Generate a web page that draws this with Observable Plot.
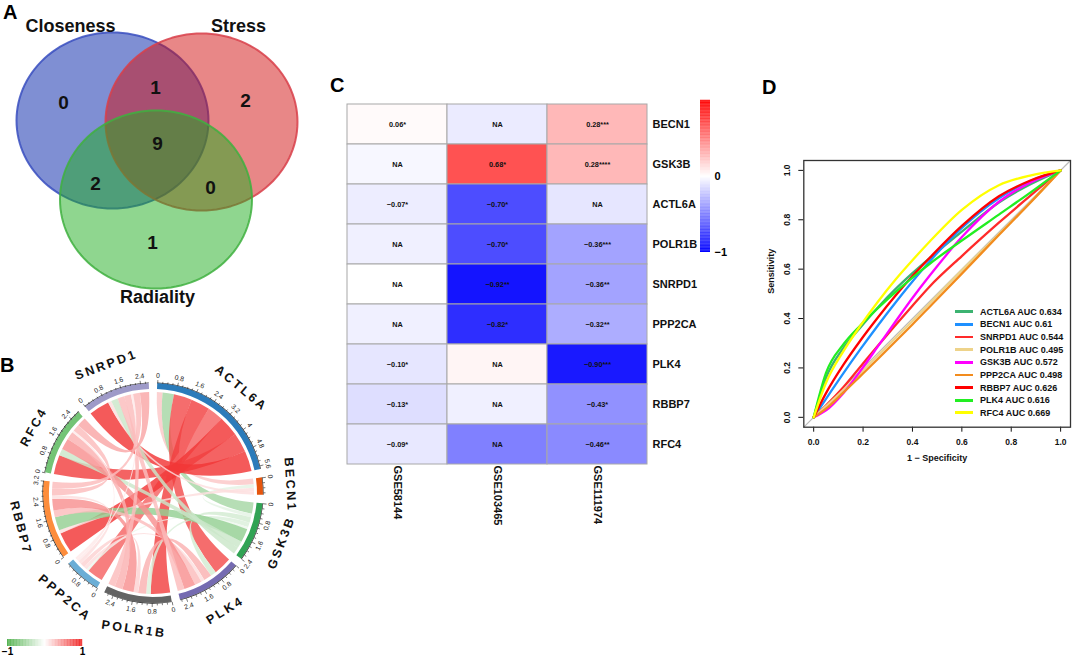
<!DOCTYPE html>
<html><head><meta charset="utf-8">
<script src="https://cdn.jsdelivr.net/npm/d3@7"></script>
<script src="https://cdn.jsdelivr.net/npm/@observablehq/plot@0.6"></script>
<style>
body{margin:0;background:#fff;font-family:"Liberation Sans",Arial,Helvetica,sans-serif;}
#fig{position:relative;width:1072px;height:656px;overflow:hidden;background:#fff;}
.tag{position:absolute;font-weight:bold;font-size:20px;line-height:1;color:#000;}
.leg{position:absolute;font-weight:bold;font-size:9px;color:#111;}
.leg .row{height:12.65px;display:flex;align-items:center;white-space:nowrap;}
.leg .sw{display:inline-block;width:18px;height:2.7px;margin-right:7px;}
</style></head>
<body><div id="fig"></div>
<script>
// ---------------- DATA ----------------
// Panel A – Venn
const vennSets = ["Closeness", "Stress", "Radiality"];
const vennRegions = ["Closeness only", "Closeness∩Stress", "Stress only", "all three", "Closeness∩Radiality", "Stress∩Radiality", "Radiality only"];
const vennCounts = [0, 1, 2, 9, 2, 0, 1];

// Panel B – chord (pairwise correlations)
const chordGenes = ["ACTL6A", "BECN1", "GSK3B", "PLK4", "POLR1B", "PPP2CA", "RBBP7", "RFC4", "SNRPD1"];
const chordFrom = ["ACTL6A","ACTL6A","ACTL6A","ACTL6A","ACTL6A","ACTL6A","ACTL6A","ACTL6A",
  "BECN1","BECN1","BECN1",
  "GSK3B","GSK3B","GSK3B","GSK3B","GSK3B","GSK3B",
  "PLK4","PLK4","PLK4","PLK4","PLK4",
  "POLR1B","POLR1B","POLR1B","POLR1B",
  "PPP2CA","PPP2CA","PPP2CA",
  "RBBP7","RBBP7","RFC4"];
const chordTo = ["BECN1","GSK3B","PLK4","POLR1B","PPP2CA","RBBP7","RFC4","SNRPD1",
  "GSK3B","RBBP7","SNRPD1",
  "PLK4","POLR1B","PPP2CA","RBBP7","RFC4","SNRPD1",
  "POLR1B","PPP2CA","RBBP7","RFC4","SNRPD1",
  "PPP2CA","RBBP7","RFC4","SNRPD1",
  "RBBP7","RFC4","SNRPD1",
  "RFC4","SNRPD1","SNRPD1"];
const chordR = [0.25,-0.5,0.8,0.85,0.7,0.9,0.85,0.9,
  -0.15,0.15,0.15,
  -0.25,-0.2,-0.1,-0.6,-0.3,-0.3,
  0.35,0.15,0.3,0.5,0.3,
  0.2,0.5,0.35,0.3,
  0.15,0.1,0.1,
  0.3,0.3,0.4];

// Panel C – heatmap
const heatGenes = ["BECN1", "GSK3B", "ACTL6A", "POLR1B", "SNRPD1", "PPP2CA", "PLK4", "RBBP7", "RFC4"];
const heatSets = ["GSE58144", "GSE103465", "GSE111974"];
const heatValues = [
  [0.02, -0.08, 0.28],
  [-0.03, 0.68, 0.28],
  [-0.07, -0.70, -0.10],
  [-0.06, -0.70, -0.36],
  [0.00, -0.92, -0.36],
  [-0.06, -0.82, -0.32],
  [-0.10, 0.04, -0.90],
  [-0.13, -0.06, -0.43],
  [-0.09, -0.50, -0.46]
];
const heatText = [
  ["0.06*", "NA", "0.28***"],
  ["NA", "0.68*", "0.28****"],
  ["−0.07*", "−0.70*", "NA"],
  ["NA", "−0.70*", "−0.36***"],
  ["NA", "−0.92**", "−0.36**"],
  ["NA", "−0.82*", "−0.32**"],
  ["−0.10*", "NA", "−0.90***"],
  ["−0.13*", "NA", "−0.43*"],
  ["−0.09*", "NA", "−0.46**"]
];

// Panel D – ROC
const rocGenes = ["ACTL6A", "BECN1", "SNRPD1", "POLR1B", "GSK3B", "PPP2CA", "RBBP7", "PLK4", "RFC4"];
const rocAUC = [0.634, 0.61, 0.544, 0.495, 0.572, 0.498, 0.626, 0.616, 0.669];
const rocFPR = [0, 0.05, 0.12, 0.19, 0.26, 0.33, 0.40, 0.47, 0.60, 0.75, 0.88, 1];
const rocTPR = [
  [0, 0.160, 0.280, 0.365, 0.445, 0.518, 0.584, 0.645, 0.752, 0.870, 0.945, 1],
  [0, 0.075, 0.178, 0.277, 0.372, 0.463, 0.550, 0.632, 0.767, 0.887, 0.958, 1],
  [0, 0.048, 0.122, 0.206, 0.290, 0.372, 0.452, 0.530, 0.653, 0.788, 0.900, 1],
  [0, 0.045, 0.110, 0.180, 0.250, 0.320, 0.390, 0.462, 0.595, 0.742, 0.873, 1],
  [0, 0.028, 0.098, 0.189, 0.287, 0.386, 0.483, 0.574, 0.730, 0.873, 0.952, 1],
  [0, 0.035, 0.100, 0.168, 0.236, 0.306, 0.376, 0.448, 0.582, 0.738, 0.872, 1],
  [0, 0.098, 0.212, 0.312, 0.404, 0.491, 0.572, 0.646, 0.775, 0.895, 0.960, 1],
  [0, 0.180, 0.295, 0.373, 0.442, 0.506, 0.566, 0.622, 0.716, 0.821, 0.912, 1],
  [0, 0.140, 0.267, 0.372, 0.468, 0.556, 0.636, 0.712, 0.840, 0.940, 0.980, 1]
];
const rocTicks = [0, 0.2, 0.4, 0.6, 0.8, 1];

// ---------------- STYLES / LAYOUT ----------------
const FONT = '"Liberation Sans", Arial, Helvetica, sans-serif';
const vennFill = ["#0020a8", "#d11010", "#20ad20"];
const vennStroke = ["#3a4fc0", "#d8404a", "#3fb03f"];
const vennShape = [{cx:112, cy:120, rx:96, ry:88}, {cx:201, cy:121.5, rx:96, ry:88.5}, {cx:155.5, cy:199, rx:96, ry:89}];
const vennNamePos = [[70, 26], [238, 26], [157, 297]];
const vennCountPos = [[63, 102], [155, 87], [245, 100], [157, 143], [95, 183], [210, 187], [152, 242]];
const sectorColors = ["#2b7bba", "#e6550d", "#31a354", "#756bb1", "#636363", "#6baed6", "#fd8d3c", "#74c476", "#9e9ac8"];
const chordRange = ["#4daf4a", "#ffffff", "#f02020"];
const heatRange = ["#0000ff", "#ffffff", "#ff0000"];
const rocColors = ["#3CB371", "#1E90FF", "#FF2A2A", "#EED38A", "#FF00FF", "#F28C1E", "#FF0000", "#22EE22", "#FFFF00"];

const fig = document.getElementById("fig");
function place(node, left, top) {
  node.style.position = "absolute";
  node.style.left = left + "px";
  node.style.top = top + "px";
  fig.appendChild(node);
  return node;
}
function tag(t, left, top) {
  const d = document.createElement("div");
  d.className = "tag"; d.textContent = t;
  d.style.left = left + "px"; d.style.top = top + "px";
  fig.appendChild(d);
}

// ---------------- PANEL A ----------------
function ellipsePts(e) {
  return d3.range(0, 361, 3).map(t => ({x: e.cx + e.rx * Math.cos(t * Math.PI / 180), y: e.cy + e.ry * Math.sin(t * Math.PI / 180)}));
}
const vennPlot = Plot.plot({
  width: 320, height: 320, margin: 0,
  x: {domain: [0, 320], range: [0, 320], axis: null},
  y: {domain: [0, 320], range: [0, 320], axis: null},
  style: {fontFamily: FONT, background: "transparent", overflow: "visible"},
  marks: [
    ...vennSets.map((s, i) => Plot.line(ellipsePts(vennShape[i]), {x: "x", y: "y", fill: vennFill[i], fillOpacity: 0.5, stroke: vennStroke[i], strokeOpacity: 0.85, strokeWidth: 2})),
    Plot.text(vennSets, {x: (d, i) => vennNamePos[i][0], y: (d, i) => vennNamePos[i][1], text: d => d, fontSize: 18, fontWeight: "bold", fill: "#111"}),
    Plot.text(vennCounts, {x: (d, i) => vennCountPos[i][0], y: (d, i) => vennCountPos[i][1], text: d => String(d), fontSize: 19, fontWeight: "bold", fill: "#111"})
  ]
});
place(vennPlot, 0, 0);

// ---------------- PANEL B ----------------
const N = chordGenes.length;
const gIdx = new Map(chordGenes.map((g, i) => [g, i]));
const mat = chordGenes.map(() => Array(N).fill(0));
const sgn = chordGenes.map(() => Array(N).fill(0));
chordFrom.forEach((a, k) => {
  const i = gIdx.get(a), j = gIdx.get(chordTo[k]);
  mat[i][j] = mat[j][i] = Math.abs(chordR[k]);
  sgn[i][j] = sgn[j][i] = chordR[k];
});
const PAD = 4.4 * Math.PI / 180;
const OFF = PAD / 2;
const chordLayout = d3.chord().padAngle(PAD)(mat);
const chordColor = Plot.scale({color: {type: "linear", domain: [-1, 0, 1], range: chordRange}});
const groups = chordLayout.groups.map(g => ({index: g.index, value: g.value, a0: g.startAngle + OFF, a1: g.endAngle + OFF, gene: chordGenes[g.index]}));
const ticks = [];
for (const g of groups) {
  const k = (g.a1 - g.a0) / g.value;
  for (let i = 0; i * 0.2 <= g.value + 1e-6; i++) ticks.push({a: g.a0 + i * 0.2 * k, v: +(i * 0.2).toFixed(1), major: i % 4 === 0});
}
const nice = a => { let d = a * 180 / Math.PI; d = ((d % 360) + 360) % 360; return (d > 90 && d < 270) ? d - 180 : d; };
const R_TRACK = 110;
const B_W = 320, B_H = 336, B_CX = 153, B_CY = 173;
const chordMark = (index, scales) => {
  const g = d3.create("svg:g").attr("transform", `translate(${scales.x(0)},${scales.y(0)}) rotate(${OFF * 180 / Math.PI})`);
  g.append("g").selectAll("path").data(chordLayout).join("path")
    .attr("d", d3.ribbon().radius(101))
    .attr("fill", d => chordColor.apply(sgn[d.source.index][d.target.index]))
    .attr("fill-opacity", 0.82);
  g.append("g").selectAll("path").data(chordLayout.groups).join("path")
    .attr("d", d3.arc().innerRadius(104).outerRadius(R_TRACK))
    .attr("fill", d => sectorColors[d.index]);
  g.append("g").selectAll("path").data(chordLayout.groups).join("path")
    .attr("d", d3.arc().innerRadius(R_TRACK).outerRadius(R_TRACK + 0.6))
    .attr("fill", "#222");
  return g.node();
};
const chordPlot = Plot.plot({
  width: B_W, height: B_H, margin: 0,
  x: {domain: [-B_CX, B_W - B_CX], range: [0, B_W], axis: null},
  y: {domain: [-B_CY, B_H - B_CY], range: [0, B_H], axis: null},
  style: {fontFamily: FONT, background: "transparent", overflow: "visible"},
  marks: [
    chordMark,
    Plot.link(ticks, {
      x1: d => R_TRACK * Math.sin(d.a), y1: d => -R_TRACK * Math.cos(d.a),
      x2: d => (R_TRACK + (d.major ? 3.5 : 2)) * Math.sin(d.a), y2: d => -(R_TRACK + (d.major ? 3.5 : 2)) * Math.cos(d.a),
      stroke: "#222", strokeWidth: 0.6
    }),
    Plot.text(ticks.filter(t => t.major), {
      x: d => 118 * Math.sin(d.a), y: d => -118 * Math.cos(d.a),
      text: d => String(d.v), rotate: d => nice(d.a), fontSize: 6.8, fill: "#222"
    }),
    Plot.text(groups, {
      x: d => 137 * Math.sin((d.a0 + d.a1) / 2), y: d => -137 * Math.cos((d.a0 + d.a1) / 2),
      text: "gene", rotate: d => nice((d.a0 + d.a1) / 2), fontSize: 12.5, fontWeight: "bold", fill: "#111"
    })
  ]
});
chordPlot.querySelectorAll("text").forEach(t => { if (chordGenes.includes(t.textContent)) t.style.letterSpacing = "2.5px"; });
place(chordPlot, 0, 320);

const rampH = d3.range(-1, 1, 0.02);
const chordLegend = Plot.plot({
  width: 92, height: 24, marginLeft: 7, marginRight: 10, marginTop: 7, marginBottom: 10,
  x: {domain: [-1, 1], ticks: [-1, 1], tickSize: 0, tickPadding: 1, tickFormat: d => d < 0 ? "−1" : "1", label: null},
  color: {type: "linear", domain: [-1, 0, 1], range: chordRange},
  style: {fontFamily: FONT, fontSize: "10px", fontWeight: "bold", background: "transparent", overflow: "visible"},
  marks: [Plot.rect(rampH, {x1: d => d, x2: d => d + 0.025, fill: d => d + 0.01})]
});
place(chordLegend, 0, 632);

// ---------------- PANEL C ----------------
const cells = heatGenes.flatMap((g, i) => heatSets.map((s, j) => ({gene: g, set: s, value: heatValues[i][j], label: heatText[i][j]})));
const heatPlot = Plot.plot({
  width: 420, height: 500, marginLeft: 16, marginRight: 102, marginTop: 40, marginBottom: 92,
  x: {domain: heatSets, padding: 0, axis: "bottom", tickRotate: 90, tickSize: 0, tickPadding: -3, label: null},
  y: {domain: heatGenes, padding: 0, axis: "right", tickSize: 0, tickPadding: 4, label: null},
  color: {type: "linear", domain: [-1, 0, 1], range: heatRange},
  style: {fontFamily: FONT, fontSize: "11px", fontWeight: "bold", background: "transparent", overflow: "visible", color: "#111"},
  marks: [
    Plot.cell(cells, {x: "set", y: "gene", fill: "value", stroke: "#a8a8a8", strokeWidth: 1}),
    Plot.text(cells, {x: "set", y: "gene", text: "label", fontSize: 7.3, fontWeight: "bold", fill: "#111"})
  ]
});
place(heatPlot, 330, 60);

const rampV = d3.range(-1, 1, 0.01);
const heatLegend = Plot.plot({
  width: 40, height: 160, marginLeft: 0, marginRight: 30, marginTop: 0, marginBottom: 8,
  x: {domain: [0, 1], axis: null},
  y: {domain: [-1, 1], axis: "right", ticks: [0, -1], tickSize: 0, tickPadding: 4, tickFormat: d => d < 0 ? "−1" : "0", label: null},
  color: {type: "linear", domain: [-1, 0, 1], range: heatRange},
  style: {fontFamily: FONT, fontSize: "11px", fontWeight: "bold", background: "transparent", overflow: "visible"},
  marks: [Plot.rect(rampV, {x1: 0, x2: 1, y1: d => d, y2: d => d + 0.013, fill: d => d + 0.005})]
});
place(heatLegend, 700, 100);

// ---------------- PANEL D ----------------
const rocRows = rocGenes.flatMap((g, i) => rocFPR.map((x, j) => ({gene: g, x, y: rocTPR[i][j]})));
const rocPlot = Plot.plot({
  width: 322, height: 330, marginLeft: 53.3, marginRight: 2, marginTop: 20, marginBottom: 43.3,
  x: {domain: [-0.04, 1.04], ticks: rocTicks, tickFormat: d3.format(".1f"), tickSize: 5, tickPadding: 7, label: null},
  y: {domain: [-0.04, 1.04], ticks: rocTicks, tickSize: 5, tickFormat: () => "", label: null},
  style: {fontFamily: FONT, fontSize: "8.5px", fontWeight: "bold", background: "transparent", overflow: "visible", color: "#111"},
  marks: [
    Plot.line([-0.04, 1.04], {x: d => d, y: d => d, stroke: "#bbbbbb", strokeWidth: 1.2}),
    ...rocGenes.map((g, i) => Plot.line(rocRows.filter(r => r.gene === g), {x: "x", y: "y", stroke: rocColors[i], strokeWidth: 2.3, curve: "monotone-x"})),
    Plot.text(rocTicks, {x: -0.04, y: d => d, text: d => d3.format(".1f")(d), rotate: -90, dx: -16.6, fontSize: 8.5, fontWeight: "bold"}),
    Plot.frame({stroke: "#333", strokeWidth: 1.3}),
    Plot.text(["1 − Specificity"], {frameAnchor: "bottom", text: d => d, dy: 33.3, fontSize: 9, fontWeight: "bold"}),
    Plot.text(["Sensitivity"], {frameAnchor: "left", text: d => d, rotate: -90, dx: -32.6, fontSize: 9, fontWeight: "bold"})
  ]
});
place(rocPlot, 750, 140);

const leg = document.createElement("div");
leg.className = "leg";
leg.style.left = "955px"; leg.style.top = "305.4px";
rocGenes.forEach((g, i) => {
  const row = document.createElement("div"); row.className = "row";
  const sw = document.createElement("span"); sw.className = "sw"; sw.style.background = rocColors[i];
  const tx = document.createElement("span"); tx.textContent = `${g} AUC ${rocAUC[i]}`;
  row.appendChild(sw); row.appendChild(tx); leg.appendChild(row);
});
fig.appendChild(leg);

// panel tags
tag("A", 3, 2);
tag("B", 0, 355);
tag("C", 330, 75);
tag("D", 762, 77);
</script>
</body></html>
